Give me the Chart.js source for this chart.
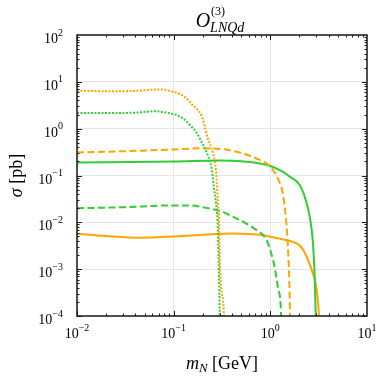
<!DOCTYPE html>
<html>
<head>
<meta charset="utf-8">
<script src="https://cdn.jsdelivr.net/npm/chart.js@4/dist/chart.umd.min.js"></script>
<style>
  body { margin: 0; background: #fff; }
</style>
</head>
<body>
<canvas id="grafico" width="383" height="380"></canvas>
<script>
// valores (m_N em GeV, sigma em pb)
const laranjaPontX = [0.01, 0.02, 0.04, 0.07, 0.1, 0.128, 0.155, 0.196, 0.226, 0.255, 0.274, 0.281, 0.288, 0.295, 0.299, 0.31, 0.33, 0.335]
const laranjaPontY = [6.5, 6.3, 6.4, 6.9, 6.1, 4.9, 3.3, 1.8, 0.62, 0.30, 0.129, 0.056, 0.025, 0.01, 0.002, 0.0004, 0.00012, 0.00003]

const verdePontX = [0.01, 0.02, 0.04, 0.065, 0.085, 0.108, 0.128, 0.147, 0.174, 0.196, 0.221, 0.249, 0.261, 0.275, 0.284, 0.291, 0.296, 0.3, 0.302]
const verdePontY = [2.15, 2.15, 2.2, 2.35, 2.2, 1.94, 1.6, 1.2, 0.8, 0.5, 0.3, 0.129, 0.056, 0.025, 0.011, 0.002, 0.0004, 0.0001, 0.00003]

const laranjaTracoX = [0.01, 0.03, 0.1, 0.2, 0.3, 0.45, 0.72, 1.0, 1.2, 1.35, 1.45, 1.52, 1.57, 1.6, 1.62]
const laranjaTracoY = [0.31, 0.33, 0.36, 0.38, 0.37, 0.32, 0.23, 0.155, 0.085, 0.04, 0.012, 0.003, 0.0006, 0.0001, 0.00003]

const verdeTracoX = [0.01, 0.03, 0.1, 0.15, 0.2, 0.3, 0.45, 0.68, 0.92, 1.0, 1.1, 1.2, 1.29, 1.31]
const verdeTracoY = [0.020, 0.021, 0.023, 0.023, 0.021, 0.0175, 0.012, 0.0074, 0.0041, 0.0025, 0.0012, 0.0004, 0.00012, 0.00003]

const verdeCheioX = [0.01, 0.1, 0.3, 0.54, 0.78, 1.0, 1.3, 1.58, 2.02, 2.28, 2.57, 2.76, 2.88, 2.95, 2.98]
const verdeCheioY = [0.19, 0.20, 0.21, 0.20, 0.18, 0.16, 0.125, 0.095, 0.062, 0.034, 0.0125, 0.0036, 0.00066, 0.0001, 0.00003]

const laranjaCheioX = [0.01, 0.02, 0.045, 0.1, 0.2, 0.4, 0.85, 1.17, 1.58, 2.02, 2.39, 2.76, 3.0, 3.1, 3.18, 3.22]
const laranjaCheioY = [0.0057, 0.0051, 0.0047, 0.0050, 0.0054, 0.0058, 0.0053, 0.0046, 0.0040, 0.0032, 0.0018, 0.0008, 0.0004, 0.00021, 0.0001, 0.00003]

const expoentesX = [-2, -1, 0, 1]
const expoentesY = [-4, -3, -2, -1, 0, 1, 2]

const LARANJA = 'rgb(255, 165, 0)'
const VERDE = 'rgb(50, 205, 50)'
const SERIF = '"Liberation Serif", "DejaVu Serif", serif'

const pares = (xs, ys) => xs.map((v, i) => ({ x: v, y: ys[i] }))

const serie = (xs, ys, cor, tracejado) => ({
    data: pares(xs, ys),
    borderColor: cor,
    borderWidth: 2,
    borderDash: tracejado,
    pointRadius: 0,
    fill: false,
    cubicInterpolationMode: 'monotone',
    clip: 0
})

const ehDecada = (v) => Math.abs(Math.log10(v) - Math.round(Math.log10(v))) < 1e-6

// escreve "10^e" com expoente sobrescrito
const potencia = (ctx, e, x, y, alinha) => {
    const base = '10'
    const sup = e < 0 ? '\u2212' + Math.abs(e) : String(e)
    ctx.font = '14px ' + SERIF
    const wb = ctx.measureText(base).width
    ctx.font = '10px ' + SERIF
    const ws = ctx.measureText(sup).width
    let x0 = alinha === 'right' ? x - wb - ws : x - (wb + ws) / 2
    ctx.textAlign = 'left'
    ctx.textBaseline = 'alphabetic'
    ctx.font = '14px ' + SERIF
    ctx.fillText(base, x0, y)
    ctx.font = '10px ' + SERIF
    ctx.fillText(sup, x0 + wb, y - 7.5)
}

const moldura = {
    id: 'moldura',
    afterDraw(chart) {
        const { ctx, chartArea: a, scales } = chart
        const sx = scales.x, sy = scales.y
        ctx.save()
        ctx.fillStyle = '#000'
        ctx.strokeStyle = '#1a1a1a'

        // marcas internas nos quatro lados
        ctx.lineWidth = 1
        ctx.beginPath()
        for (let e = -2; e < 1; e++) {
            for (let m = 1; m <= 9; m++) {
                const px = Math.round(sx.getPixelForValue(m * Math.pow(10, e))) + 0.5
                const t = m === 1 ? 5 : 2.5
                ctx.moveTo(px, a.bottom); ctx.lineTo(px, a.bottom - t)
                ctx.moveTo(px, a.top); ctx.lineTo(px, a.top + t)
            }
        }
        for (let e = -4; e < 2; e++) {
            for (let m = 1; m <= 9; m++) {
                const py = Math.round(sy.getPixelForValue(m * Math.pow(10, e))) + 0.5
                const t = m === 1 ? 5 : 2.5
                ctx.moveTo(a.left, py); ctx.lineTo(a.left + t, py)
                ctx.moveTo(a.right, py); ctx.lineTo(a.right - t, py)
            }
        }
        ctx.stroke()

        ctx.lineWidth = 1.5
        ctx.strokeRect(a.left, a.top, a.right - a.left, a.bottom - a.top)

        // rótulos dos eixos
        expoentesX.forEach(e => potencia(ctx, e, sx.getPixelForValue(Math.pow(10, e)), a.bottom + 22, 'center'))
        expoentesY.forEach(e => potencia(ctx, e, a.left - 14, sy.getPixelForValue(Math.pow(10, e)) + 8, 'right'))

        // título do eixo x: m_N [GeV]
        ctx.textAlign = 'left'
        ctx.font = 'italic 18px ' + SERIF
        const wm = ctx.measureText('m').width
        ctx.font = 'italic 13px ' + SERIF
        const wn = ctx.measureText('N').width
        ctx.font = '18px ' + SERIF
        const wg = ctx.measureText(' [GeV]').width
        let cx = (a.left + a.right) / 2 - (wm + wn + wg) / 2
        const by = 369
        ctx.font = 'italic 18px ' + SERIF
        ctx.fillText('m', cx, by)
        ctx.font = 'italic 13px ' + SERIF
        ctx.fillText('N', cx + wm, by + 3)
        ctx.font = '18px ' + SERIF
        ctx.fillText(' [GeV]', cx + wm + wn, by)

        // título do eixo y: sigma [pb]
        ctx.save()
        ctx.translate(22, (a.top + a.bottom) / 2)
        ctx.rotate(-Math.PI / 2)
        ctx.font = 'italic 18px ' + SERIF
        const ws = ctx.measureText('\u03c3').width
        ctx.font = '18px ' + SERIF
        const wp = ctx.measureText(' [pb]').width
        ctx.font = 'italic 18px ' + SERIF
        ctx.fillText('\u03c3', -(ws + wp) / 2, 0)
        ctx.font = '18px ' + SERIF
        ctx.fillText(' [pb]', -(ws + wp) / 2 + ws, 0)
        ctx.restore()

        // título: O^(3)_LNQd
        ctx.font = 'italic 20px ' + SERIF
        const wo = ctx.measureText('O').width
        ctx.font = 'italic 14px ' + SERIF
        const wsub = ctx.measureText('LNQd').width
        const tx = (a.left + a.right) / 2 - (wo + wsub) / 2 - 2
        ctx.font = 'italic 20px ' + SERIF
        ctx.fillText('O', tx, 27)
        ctx.font = '12px ' + SERIF
        ctx.fillText('(3)', tx + wo + 1, 15)
        ctx.font = 'italic 14px ' + SERIF
        ctx.fillText('LNQd', tx + wo, 32)
        ctx.restore()
    }
}

new Chart(document.getElementById('grafico'), {
    type: 'line',
    data: {
        datasets: [
            serie(laranjaPontX, laranjaPontY, LARANJA, [2, 1.5]),
            serie(verdePontX, verdePontY, VERDE, [2, 1.5]),
            serie(laranjaTracoX, laranjaTracoY, LARANJA, [7, 3.5]),
            serie(verdeTracoX, verdeTracoY, VERDE, [7, 3.5]),
            serie(verdeCheioX, verdeCheioY, VERDE, []),
            serie(laranjaCheioX, laranjaCheioY, LARANJA, [])
        ]
    },
    options: {
        responsive: false,
        animation: false,
        events: [],
        layout: { padding: { left: 77, right: 16, top: 35, bottom: 64 } },
        plugins: {
            legend: { display: false },
            tooltip: { enabled: false }
        },
        scales: {
            x: {
                type: 'logarithmic',
                min: 0.01,
                max: 10,
                ticks: { display: false },
                border: { display: false },
                grid: {
                    drawTicks: false,
                    color: (c) => ehDecada(c.tick.value) ? '#e6e6e6' : 'rgba(0,0,0,0)'
                },
                afterFit: (s) => { s.height = 0 }
            },
            y: {
                type: 'logarithmic',
                min: 1e-4,
                max: 100,
                ticks: { display: false },
                border: { display: false },
                grid: {
                    drawTicks: false,
                    color: (c) => ehDecada(c.tick.value) ? '#e6e6e6' : 'rgba(0,0,0,0)'
                },
                afterFit: (s) => { s.width = 0 }
            }
        }
    },
    plugins: [moldura]
})
</script>
</body>
</html>
